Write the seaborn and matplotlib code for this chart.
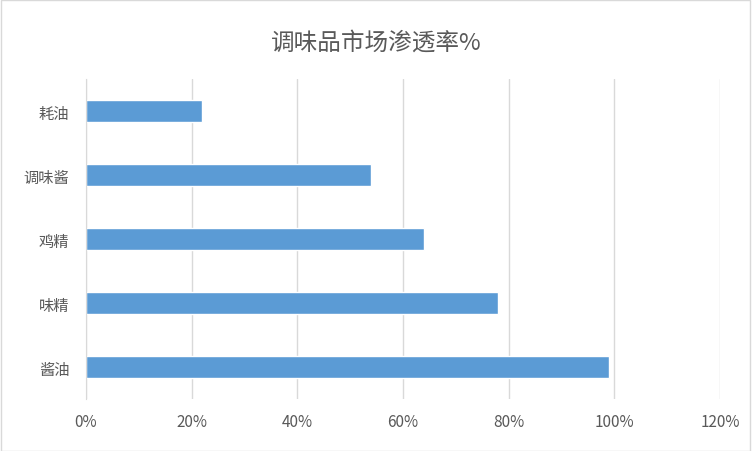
import matplotlib
matplotlib.use("Agg")
import matplotlib.pyplot as plt
import seaborn as sns
import pandas as pd

categories = ["耗油", "调味酱", "鸡精", "味精", "酱油"]
values = [22, 54, 64, 78, 99]
ticks = [0, 20, 40, 60, 80, 100, 120]
tick_labels = ["0%", "20%", "40%", "60%", "80%", "100%", "120%"]

sns.set_style("white")
plt.rcParams['font.family'] = ['Noto Sans CJK SC', 'DejaVu Sans']

df = pd.DataFrame({"cat": categories, "val": values})
fig = plt.figure(figsize=(7.52, 4.52), dpi=100)
ax = fig.add_axes([86/752, 52/452, (720-86)/752, (400-80)/452])
sns.barplot(data=df, x="val", y="cat", color="#5b9bd5", width=0.35, saturation=1, ax=ax)

ax.set_xlim(0, 120)
ax.set_xticks(ticks)
ax.set_xticklabels(tick_labels, fontsize=11, color="#595959")
ax.tick_params(axis="y", labelsize=11, colors="#595959", length=0, pad=12)
ax.tick_params(axis="x", length=0, pad=10)
ax.grid(axis="x", color="#d9d9d9", linewidth=1)
ax.set_axisbelow(True)
for s in ["top", "right", "bottom"]:
    ax.spines[s].set_visible(False)
ax.spines["left"].set_color("#d9d9d9")
ax.set_xlabel("")
ax.set_ylabel("")

fig.suptitle("调味品市场渗透率%", y=0.93, fontsize=17, color="#595959")
fig.patches.append(plt.Rectangle((0.001, 0.001), 0.997, 0.997, transform=fig.transFigure,
                                 fill=False, edgecolor="#d9d9d9", linewidth=1))
fig.savefig("out.png", dpi=100)
